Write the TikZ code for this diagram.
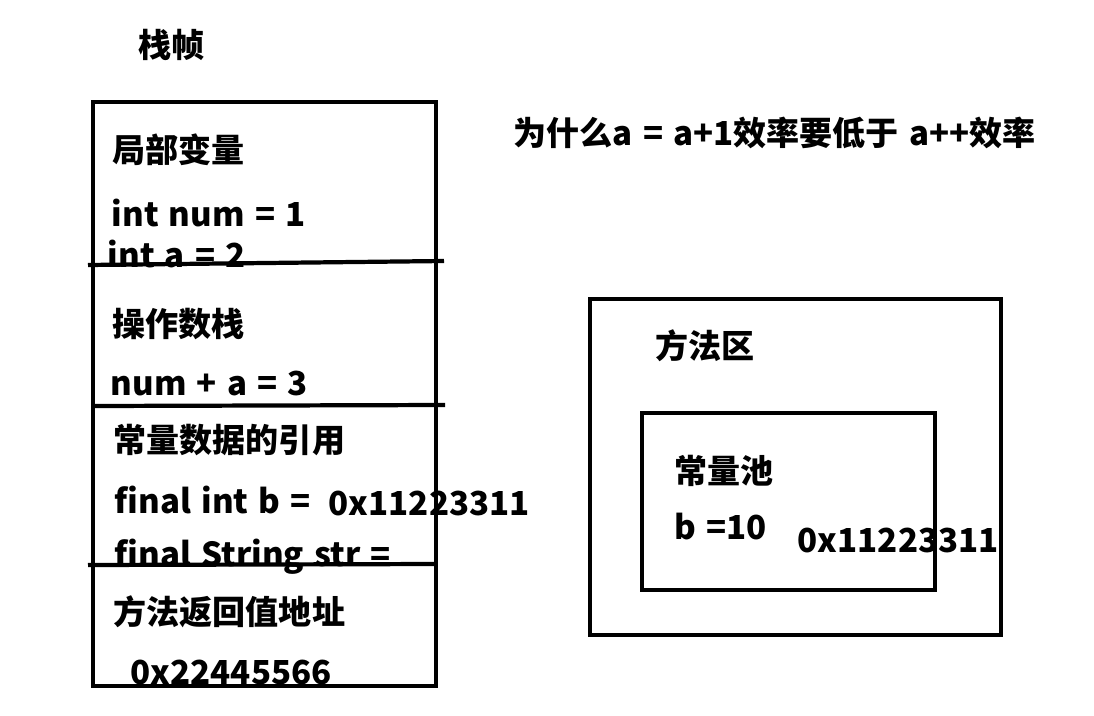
\documentclass[tikz,border=0pt]{standalone}
\usepackage{fontspec}
\setmainfont{Noto Sans CJK SC}[WordSpace=1.35]
\usetikzlibrary{positioning}

\tikzset{
    txt/.style={anchor=west, inner sep=0pt, font=\bfseries\fontsize{9.4}{11}\selectfont},
    frame/.style={draw, line width=1.2pt}
}

\begin{document}
\begin{tikzpicture}[x=0.01cm, y=-0.01cm]
    \useasboundingbox (0, 0) rectangle (1094, 715);

    % stack frame
    \draw [frame] (93, 102) rectangle (436, 686);
    \draw [frame]
        (88, 265) -- (444, 261)
        (93, 406) -- (445, 405)
        (88, 565) -- (436, 564)
    ;
    \node [txt] (frame) at (138, 45) {栈帧};
    \node [txt] (locals) at (112, 150) {局部变量};
    \node [txt] (num) at (111, 213) {int num = 1};
    \node [txt] (avar) at (107, 254) {int a = 2};
    \node [txt] (opstack) at (112, 324) {操作数栈};
    \node [txt] (sum) at (110, 383) {num + a = 3};
    \node [txt] (constref) at (113, 440) {常量数据的引用};
    \node [txt] (bref) at (114, 500) {final int b =};
    \node [txt] (baddr) at (328, 503) {0x11223311};
    \node [txt] (strref) at (114, 557) {final String str =};
    \node [txt] (retaddr) at (113, 612) {方法返回值地址};
    \node [txt] (retval) at (130, 672) {0x22445566};

    % question
    \node [txt] (question) at (513, 133) {为什么a = a+1效率要低于 a++效率};

    % method area
    \draw [frame] (590, 299) rectangle (1001, 635);
    \node [txt] (method) at (655, 346) {方法区};
    \draw [frame] (642, 413) rectangle (935, 590);
    \node [txt] (pool) at (674, 471) {常量池};
    \node [txt] (bval) at (674, 527) {b =10};
    \node [txt] (paddr) at (797, 540) {0x11223311};
\end{tikzpicture}
\end{document}
